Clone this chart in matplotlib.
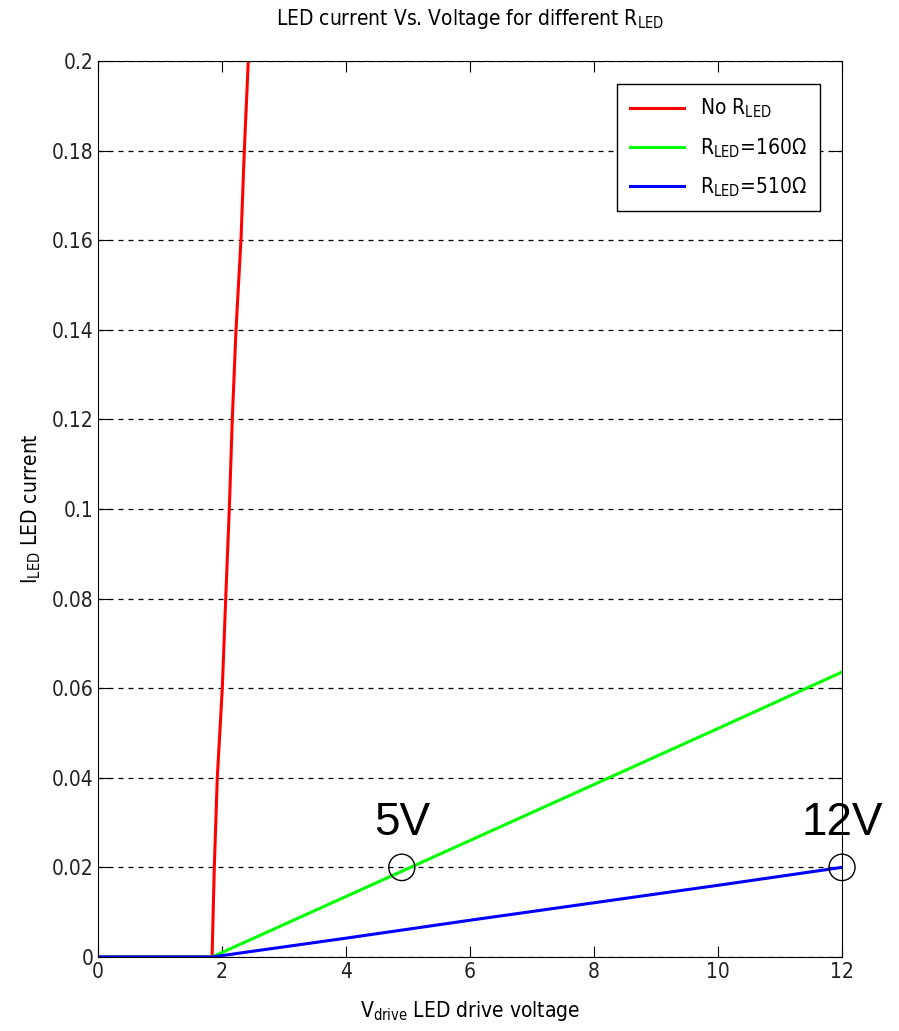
import matplotlib
matplotlib.use("Agg")
import matplotlib.pyplot as plt
from matplotlib.patches import Ellipse

plt.rcParams['font.family'] = ['DejaVu Sans', 'Liberation Sans']
plt.rcParams['font.stretch'] = 'condensed'
plt.rcParams['mathtext.fontset'] = 'custom'
plt.rcParams['mathtext.rm'] = 'DejaVu Sans:stretch=condensed'

# LED with no series resistor
v_no_r = [0, 1.84, 1.876, 1.924, 2.005, 2.060, 2.118, 2.166, 2.226, 2.306, 2.360, 2.424]
i_no_r = [0, 0, 0.02, 0.04, 0.06, 0.08, 0.10, 0.12, 0.14, 0.16, 0.18, 0.20]

# series resistor 160 ohm
v_160 = [0, 1.84, 4, 6, 8, 10, 12]
i_160 = [0, 0, 0.0135, 0.0260, 0.0385, 0.0510, 0.0636]

# series resistor 510 ohm
v_510 = [0, 1.84, 4, 6, 8, 10, 12]
i_510 = [0, 0, 0.0042, 0.0082, 0.0121, 0.0160, 0.0200]

marks = [(4.9, 0.02, '5V'), (12, 0.02, '12V')]

fig = plt.figure(figsize=(8.99, 10.31), dpi=100)
ax = fig.add_axes([0.109, 0.0718, 0.8276, 0.869])

ax.plot(v_no_r, i_no_r, color='#ff0000', lw=2.2, label=r'No R$_{\mathrm{LED}}$')
ax.plot(v_160, i_160, color='#00ff00', lw=2.2, label=r'R$_{\mathrm{LED}}$=160Ω')
ax.plot(v_510, i_510, color='#0000ff', lw=2.2, label=r'R$_{\mathrm{LED}}$=510Ω')

ax.set_xlim(0, 12)
ax.set_ylim(0, 0.2)
ax.set_xticks(range(0, 13, 2))
ax.set_yticks([0, 0.02, 0.04, 0.06, 0.08, 0.1, 0.12, 0.14, 0.16, 0.18, 0.2])
ax.set_yticklabels(['0', '0.02', '0.04', '0.06', '0.08', '0.1', '0.12', '0.14',
                    '0.16', '0.18', '0.2'])
ax.tick_params(direction='in', labelsize=15, length=8, top=True, right=True,
               labelcolor='#222222')
ax.yaxis.grid(True, linestyle=(0, (4, 4)), color='black', lw=0.9)
ax.set_axisbelow(True)

ax.set_title(r'LED current Vs. Voltage for different R$_{\mathrm{LED}}$', fontsize=15, pad=26)
ax.set_xlabel(r'V$_{\mathrm{drive}}$ LED drive voltage', fontsize=15, labelpad=12)
ax.set_ylabel(r'I$_{\mathrm{LED}}$ LED current', fontsize=15, labelpad=6)

for x, y, txt in marks:
    ax.add_patch(Ellipse((x, y), 0.42, 0.0059, fill=False, ec='black', lw=1,
                         clip_on=False, zorder=5))
    ax.text(x, y + 0.005, txt, fontsize=33, ha='center', va='bottom',
            family=['Liberation Sans', 'DejaVu Sans'], stretch='normal', zorder=6)

leg = ax.legend(loc='upper right', bbox_to_anchor=(0.970, 0.974), borderaxespad=0,
                fontsize=15, fancybox=False, framealpha=1, edgecolor='black',
                handlelength=2.6, labelspacing=0.75, borderpad=0.6)
leg.get_frame().set_linewidth(1)

fig.savefig('out.png', dpi=100)
